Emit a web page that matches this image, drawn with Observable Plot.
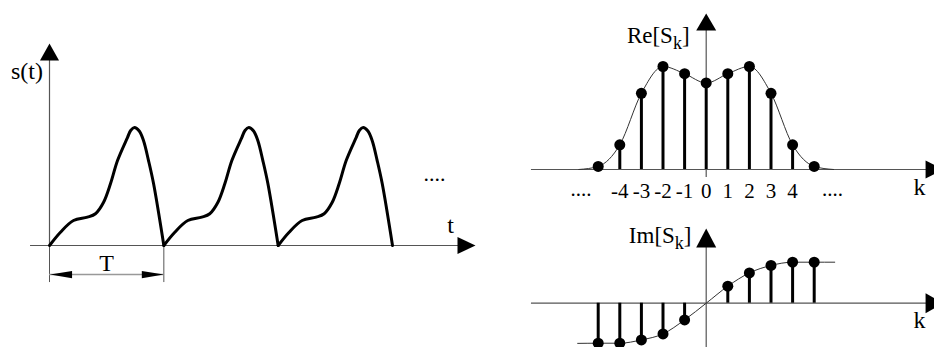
<!DOCTYPE html>
<html><head><meta charset="utf-8">
<script src="https://cdn.jsdelivr.net/npm/d3@7"></script>
<script src="https://cdn.jsdelivr.net/npm/@observablehq/plot@0.6"></script>
<style>
html,body{margin:0;padding:0;background:#fff;overflow:hidden;}
#wrap{position:relative;width:934px;height:347px;overflow:hidden;background:#fff;}
#wrap > svg{position:absolute;margin:0;}
</style></head><body><div id="wrap"></div>
<script>
// ---- data ----
const periods = [0, 1, 2];
const periodT = [0, 0.096, 0.21, 0.332, 0.402, 0.472, 0.534, 0.595, 0.682, 0.71, 0.743, 0.785, 0.822, 0.866, 0.91, 1.0];
const periodS = [0, 0.113, 0.212, 0.24, 0.269, 0.364, 0.525, 0.72, 0.915, 0.975, 1.0, 0.97, 0.89, 0.72, 0.525, 0];

const kValues = [-5, -4, -3, -2, -1, 0, 1, 2, 3, 4, 5];
const reValues = [0.03, 0.24, 0.74, 1.0, 0.93, 0.84, 0.93, 1.0, 0.74, 0.24, 0.03];
const reCurveK = [-5.9, -5, -4, -3, -2, -1, 0, 1, 2, 3, 4, 5, 5.9];
const reCurveV = [0, 0.03, 0.24, 0.74, 1.0, 0.93, 0.84, 0.93, 1.0, 0.74, 0.24, 0.03, 0];

const imK = [-5, -4, -3, -2, -1, 1, 2, 3, 4, 5];
const imValues = [-0.976, -0.976, -0.895, -0.749, -0.407, 0.415, 0.739, 0.92, 1.0, 1.0];
const imCurveK = [-5.95, -5, -4, -3, -2, -1, 0, 1, 2, 3, 4, 5, 5.95];
const imCurveV = [-0.98, -0.976, -0.976, -0.895, -0.749, -0.407, 0, 0.415, 0.739, 0.92, 1.0, 1.0, 1.0];

const tickK = [-4, -3, -2, -1, 0, 1, 2, 3, 4];
const tickLabels = ["-4", "-3", "-2", "-1", "0", "1", "2", "3", "4"];
const ellipsisK = [-5.8, 5.85];

// ---- helpers ----
const FONT = "Liberation Serif, Times New Roman, serif";
const head = (dir, len, hw) => ({
  draw(ctx) {
    if (dir === "up") { ctx.moveTo(0, 0); ctx.lineTo(hw, len); ctx.lineTo(-hw, len); }
    else if (dir === "right") { ctx.moveTo(0, 0); ctx.lineTo(-len, hw); ctx.lineTo(-len, -hw); }
    else { ctx.moveTo(0, 0); ctx.lineTo(len, hw); ctx.lineTo(len, -hw); }
    ctx.closePath();
  }
});
function subscriptify(svg) {
  d3.select(svg).selectAll("text").each(function () {
    const m = this.textContent.match(/^(.*)_(\w)(.*)$/);
    if (!m) return;
    const el = d3.select(this); el.text(null);
    el.append("tspan").text(m[1]);
    el.append("tspan").attr("font-size", "18px").attr("dy", "6").text(m[2]);
    el.append("tspan").attr("dy", "-6").text(m[3]);
  });
}
const txt = (s, x, y, o = {}) => Plot.text([s], {x: () => x, y: () => y, text: d => d, fontFamily: FONT, fontSize: 24, fill: "black", lineAnchor: "bottom", ...o});
const AX = {stroke: "#555", strokeWidth: 1.2};

const wrap = document.getElementById("wrap");

// ---- left: s(t) ----
const wave = periods.flatMap(p => periodT.map((t, i) => ({t: p + t, s: periodS[i], p})));
const left = Plot.plot({
  width: 500, height: 347,
  x: {axis: null, domain: [0, 3], range: [49, 392]},
  y: {axis: null, domain: [0, 1], range: [245, 127]},
  style: {background: "transparent", overflow: "hidden"},
  marks: [
    Plot.ruleY([0], {x1: -0.166, x2: 3.6, ...AX}),
    Plot.ruleX([0], {y1: 0, y2: 1.57, ...AX}),
    Plot.dot([0], {x: 0, y: 1.712, symbol: head("up", 17, 9.5), fill: "black", stroke: "none"}),
    Plot.dot([0], {x: 3.726, y: 0, symbol: head("right", 18, 8.5), fill: "black", stroke: "none"}),
    Plot.ruleX([0, 1], {y1: 0, y2: -0.314, stroke: "#555", strokeWidth: 1}),
    Plot.ruleY([-0.246], {x1: 0, x2: 1, stroke: "#999", strokeWidth: 1.5}),
    Plot.dot([0], {x: 0.005, y: -0.246, symbol: head("left", 22, 3.6), fill: "black", stroke: "none"}),
    Plot.dot([0], {x: 1, y: -0.246, symbol: head("right", 22, 3.6), fill: "black", stroke: "none"}),
    Plot.line(wave, {x: "t", y: "s", z: "p", curve: "catmull-rom", stroke: "black", strokeWidth: 3, strokeLinejoin: "round"}),
    txt("s(t)", -0.197, 1.415),
    txt("t", 3.507, 0.102),
    txt("T", 0.5, -0.22),
    txt("....", 3.367, 0.55, {fontSize: 22})
  ]
});
left.style.left = "0px"; left.style.top = "0px";
wrap.appendChild(left);

// ---- right top: Re[S_k] ----
const reStem = kValues.map((k, i) => ({k, v: reValues[i]}));
const reCurve = reCurveK.map((k, i) => ({k, v: reCurveV[i]}));
const rtop = Plot.plot({
  width: 434, height: 205,
  x: {axis: null, domain: [-5, 5], range: [97.7, 313.7]},
  y: {axis: null, domain: [0, 1], range: [169, 66]},
  style: {background: "transparent", overflow: "hidden"},
  marks: [
    Plot.ruleY([0], {x1: -8.09, x2: 10.2, ...AX}),
    Plot.ruleX([0], {y1: -0.078, y2: 1.36, ...AX}),
    Plot.dot([0], {x: 0, y: 1.515, symbol: head("up", 17, 10), fill: "black", stroke: "none"}),
    Plot.dot([0], {x: 10.99, y: 0, symbol: head("right", 18, 9), fill: "black", stroke: "none"}),
    Plot.line(reCurve, {x: "k", y: "v", curve: "monotone-x", stroke: "#333", strokeWidth: 1}),
    Plot.ruleX(reStem, {x: "k", y1: 0, y2: "v", stroke: "black", strokeWidth: 3}),
    Plot.dot(reStem, {x: "k", y: "v", r: 5.5, fill: "black", stroke: "none"}),
    Plot.text(tickK, {x: d => d, y: () => -0.272, text: (d, i) => tickLabels[i], fontFamily: FONT, fontSize: 21, fill: "black", lineAnchor: "bottom"}),
    Plot.text(ellipsisK, {x: d => d, y: () => -0.255, text: () => "....", fontFamily: FONT, fontSize: 21, fill: "black", lineAnchor: "bottom"}),
    txt("k", 9.87, -0.252),
    txt("Re[S_k]", -0.77, 1.233, {textAnchor: "end", fontSize: 23})
  ]
});
subscriptify(rtop);
rtop.style.left = "500px"; rtop.style.top = "0px";
wrap.appendChild(rtop);

// ---- right bottom: Im[S_k] ----
const imStem = imK.map((k, i) => ({k, v: imValues[i]}));
const imCurve = imCurveK.map((k, i) => ({k, v: imCurveV[i]}));
const rbot = Plot.plot({
  width: 434, height: 142,
  x: {axis: null, domain: [-5, 5], range: [97.7, 313.7]},
  y: {axis: null, domain: [0, 1], range: [97.7, 56.7]},
  style: {background: "transparent", overflow: "hidden"},
  marks: [
    Plot.ruleY([0], {x1: -8.09, x2: 10.2, ...AX}),
    Plot.ruleX([0], {y1: -1.2, y2: 1.36, ...AX}),
    Plot.dot([0], {x: 0, y: 1.822, symbol: head("up", 19, 10), fill: "black", stroke: "none"}),
    Plot.dot([0], {x: 10.99, y: 0, symbol: head("right", 18, 10), fill: "black", stroke: "none"}),
    Plot.line(imCurve, {x: "k", y: "v", curve: "monotone-x", stroke: "#333", strokeWidth: 1}),
    Plot.ruleX(imStem, {x: "k", y1: 0, y2: "v", stroke: "black", strokeWidth: 3}),
    Plot.dot(imStem, {x: "k", y: "v", r: 5.5, fill: "black", stroke: "none"}),
    txt("k", 9.87, -0.593),
    txt("Im[S_k]", -0.68, 1.48, {textAnchor: "end", fontSize: 23})
  ]
});
subscriptify(rbot);
rbot.style.left = "500px"; rbot.style.top = "205px";
wrap.appendChild(rbot);
</script></body></html>
